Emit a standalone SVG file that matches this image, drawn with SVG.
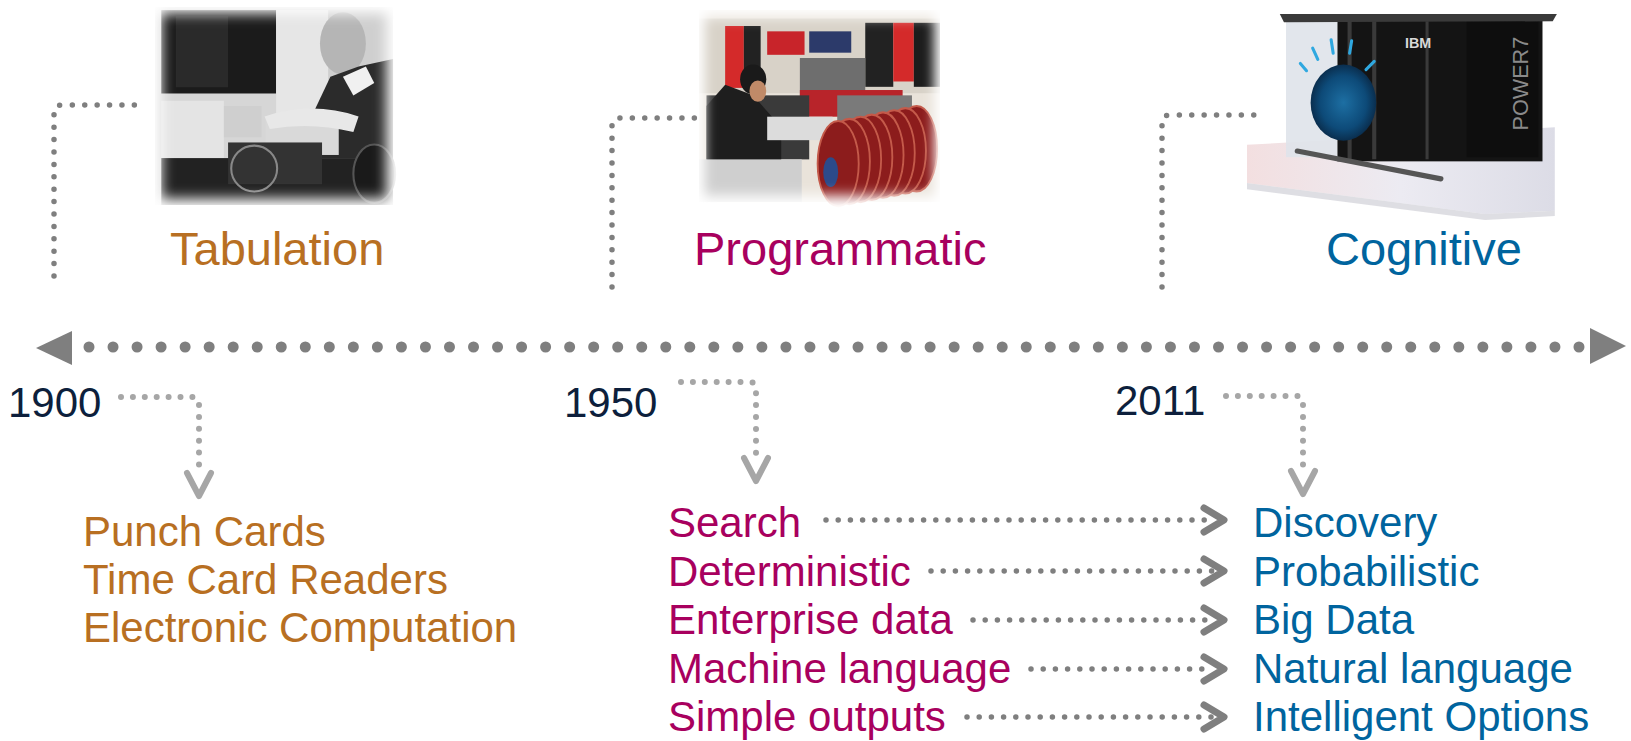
<svg xmlns="http://www.w3.org/2000/svg" width="1631" height="741" viewBox="0 0 1631 741">
<style>
.t{font-family:"Liberation Sans",Arial,sans-serif}
.title{font-size:47px}
.yr{font-size:42px;fill:#0D1F3C}
.it{font-size:42px}
.or{fill:#B86F22}
.mg{fill:#A8005E}
.bl{fill:#00649E}
.bigdot{fill:none;stroke:#7F7F7F;stroke-width:11;stroke-linecap:round;stroke-dasharray:0 24.032}
.brk{fill:none;stroke:#7F7F7F;stroke-width:5.5;stroke-linecap:round;stroke-dasharray:0 12.4}
.yc{fill:none;stroke:#A6A6A6;stroke-width:6;stroke-linecap:round;stroke-dasharray:0 11.9}
.ychev{fill:none;stroke:#A6A6A6;stroke-width:6;stroke-linecap:round;stroke-linejoin:round}
.ar{fill:none;stroke:#7F7F7F;stroke-width:5.5;stroke-linecap:round;stroke-dasharray:0 12.2}
.chev{fill:none;stroke:#7F7F7F;stroke-width:7;stroke-linecap:round;stroke-linejoin:round}
</style>
<defs>
<filter id="soft" x="-20%" y="-20%" width="140%" height="140%"><feGaussianBlur stdDeviation="6"/></filter>
<mask id="m1"><rect x="156" y="11" width="216" height="178" fill="#fff" filter="url(#soft)"/></mask>
<mask id="m2"><rect x="678" y="16" width="246" height="168" fill="#fff" filter="url(#soft)"/></mask>
<linearGradient id="plat" x1="0" y1="0" x2="1" y2="0"><stop offset="0" stop-color="#f3dfe0"/><stop offset="0.5" stop-color="#ecebf2"/><stop offset="1" stop-color="#dcdce6"/></linearGradient>
<radialGradient id="globe" cx="0.5" cy="0.5" r="0.5"><stop offset="0" stop-color="#1d6fa3"/><stop offset="0.7" stop-color="#0d4a78"/><stop offset="1" stop-color="#0a2e4e"/></radialGradient>
</defs>

<!-- Photo 1 -->
<g id="photo-tabulation" transform="translate(155,7) scale(1.044,1.042) translate(-150,-5)">
<g mask="url(#m1)">
<rect x="150" y="5" width="228" height="190" fill="#d6d6d6"/>
<rect x="156" y="8" width="110" height="80" fill="#1b1b1b"/>
<rect x="170" y="14" width="50" height="68" fill="#2a2a2a"/>
<rect x="266" y="8" width="50" height="110" fill="#e6e6e6"/>
<rect x="316" y="8" width="62" height="100" fill="#cfcfcf"/>
<ellipse cx="330" cy="40" rx="22" ry="30" fill="#b5b5b5"/>
<path d="M300,110 L318,72 L345,62 L378,55 L378,150 L300,150 Z" fill="#2b2b2b"/>
<path d="M330,72 L352,62 L360,78 L340,90 Z" fill="#f0f0f0"/>
<rect x="156" y="95" width="60" height="60" fill="#e4e4e4"/>
<rect x="216" y="100" width="36" height="30" fill="#cfcfcf"/>
<rect x="256" y="112" width="70" height="35" fill="#d9d9d9"/>
<path d="M255,110 Q300,95 345,110 L340,125 Q300,115 260,122 Z" fill="#e8e8e8"/>
<rect x="156" y="150" width="222" height="45" fill="#222"/>
<rect x="220" y="135" width="90" height="40" fill="#333"/>
<ellipse cx="245" cy="160" rx="22" ry="22" fill="none" stroke="#888" stroke-width="2"/>
<ellipse cx="360" cy="165" rx="20" ry="28" fill="#1a1a1a" stroke="#555" stroke-width="2"/>
</g>
</g>

<!-- Photo 2 -->
<g id="photo-programmatic" transform="translate(699,10) scale(0.934,1.067) translate(-672,-10)">
<g mask="url(#m2)">
<rect x="672" y="10" width="258" height="180" fill="#e9e3da"/>
<rect x="672" y="18" width="258" height="70" fill="#d8d2c8"/>
<rect x="700" y="25" width="20" height="58" fill="#d42a2a"/>
<rect x="720" y="25" width="18" height="58" fill="#222"/>
<rect x="745" y="30" width="40" height="22" fill="#c8242a"/>
<rect x="790" y="30" width="45" height="20" fill="#2c3a6a"/>
<rect x="850" y="22" width="30" height="60" fill="#222"/>
<rect x="880" y="22" width="22" height="55" fill="#d42a2a"/>
<rect x="902" y="22" width="28" height="60" fill="#1c1c1c"/>
<rect x="780" y="55" width="70" height="38" fill="#6e6e6e"/>
<rect x="780" y="85" width="110" height="25" fill="#b8242a"/>
<rect x="820" y="90" width="80" height="35" fill="#7a7a7a"/>
<rect x="680" y="90" width="110" height="60" fill="#3a3a3a"/>
<path d="M680,100 L700,80 L730,90 L760,120 L760,160 L680,160 Z" fill="#1e1e1e"/>
<circle cx="730" cy="75" r="14" fill="#1a1a1a"/>
<ellipse cx="735" cy="86" rx="9" ry="10" fill="#c08a68"/>
<rect x="745" y="110" width="70" height="22" fill="#dcdcdc"/>
<rect x="672" y="150" width="110" height="40" fill="#cfcfcf"/>
<g fill="#8c1c1c" stroke="#c45a4a" stroke-width="2">
<ellipse cx="905" cy="140" rx="22" ry="40"/>
<ellipse cx="893" cy="142" rx="22" ry="40"/>
<ellipse cx="881" cy="144" rx="22" ry="40"/>
<ellipse cx="869" cy="146" rx="22" ry="40"/>
<ellipse cx="857" cy="148" rx="22" ry="40"/>
<ellipse cx="845" cy="150" rx="22" ry="40"/>
<ellipse cx="833" cy="152" rx="22" ry="40"/>
<ellipse cx="821" cy="154" rx="22" ry="40"/>
</g>
<ellipse cx="813" cy="162" rx="8" ry="14" fill="#2c4a8a"/>
</g>
</g>

<!-- Photo 3 -->
<g id="photo-cognitive" transform="translate(1247,12) scale(1.026,1.03) translate(-1198,-10)">
<path d="M1198,139 L1498,122 L1498,203 L1430,206 L1198,176 Z" fill="url(#plat)"/>
<path d="M1198,176 L1430,206 L1498,203 L1498,208 L1430,212 L1198,182 Z" fill="#c8c8d0" opacity="0.6"/>
<rect x="1286" y="17" width="200" height="138" fill="#141414"/>
<rect x="1236" y="19" width="50" height="132" fill="#dfe3ea" opacity="0.9"/>
<rect x="1296" y="19" width="4" height="134" fill="#3a3a3a"/>
<rect x="1320" y="19" width="4" height="134" fill="#3a3a3a"/>
<rect x="1372" y="19" width="3" height="134" fill="#3a3a3a"/>
<rect x="1412" y="19" width="70" height="132" fill="#0e0e0e"/>
<path d="M1230,12 L1500,12 L1496,19 L1234,20 Z" fill="#3a3a3a"/>
<ellipse cx="1292" cy="98" rx="32" ry="37" fill="url(#globe)"/>
<g stroke="#2fa8e0" stroke-width="3" stroke-linecap="round">
<line x1="1250" y1="60" x2="1256" y2="67"/>
<line x1="1262" y1="45" x2="1267" y2="56"/>
<line x1="1280" y1="37" x2="1282" y2="50"/>
<line x1="1300" y1="38" x2="1298" y2="50"/>
<line x1="1322" y1="58" x2="1314" y2="66"/>
</g>
<text x="1352" y="45" class="t" font-size="14" font-weight="bold" fill="#d8d8d8">IBM</text>
<text transform="translate(1472,125) rotate(-90)" class="t" font-size="21" fill="#8a8a8a">POWER7</text>
<path d="M1247,145 L1387,172" stroke="#555" stroke-width="5" stroke-linecap="round"/>
</g>

<!-- Titles -->
<g id="node-tabulation"><text x="170" y="265" class="t title or">Tabulation</text></g>
<g id="node-programmatic"><text x="694" y="265" class="t title mg">Programmatic</text></g>
<g id="node-cognitive"><text x="1326" y="265" class="t title bl">Cognitive</text></g>

<!-- Years -->
<g id="year-1900"><text x="8" y="417" class="t yr">1900</text></g>
<g id="year-1950"><text x="564" y="417" class="t yr">1950</text></g>
<g id="year-2011"><text x="1115" y="415" class="t yr">2011</text></g>

<!-- Lists -->
<g id="list-tabulation" class="t it or">
<text x="83" y="546">Punch Cards</text>
<text x="83" y="594">Time Card Readers</text>
<text x="83" y="642">Electronic Computation</text>
</g>
<g id="list-programmatic" class="t it mg">
<text x="668" y="537">Search</text>
<text x="668" y="586">Deterministic</text>
<text x="668" y="634">Enterprise data</text>
<text x="668" y="683">Machine language</text>
<text x="668" y="731">Simple outputs</text>
</g>
<g id="list-cognitive" class="t it bl">
<text x="1253" y="537">Discovery</text>
<text x="1253" y="586">Probabilistic</text>
<text x="1253" y="634">Big Data</text>
<text x="1253" y="683">Natural language</text>
<text x="1253" y="731">Intelligent Options</text>
</g>

<!-- Connectors -->
<g id="connectors">
<line x1="89" y1="347" x2="1579" y2="347" class="bigdot"/>
<polygon points="36,348 72,331 72,365" fill="#7F7F7F"/>
<polygon points="1626,346 1590,328 1590,364" fill="#7F7F7F"/>

<path d="M54,276 V113 Q54,105 62,105 H146" class="brk"/>
<path d="M612,287 V126 Q612,118 620,118 H703" class="brk"/>
<path d="M1162,287 V123 Q1162,115 1170,115 H1254" class="brk"/>

<path d="M121,397 H193 Q199,397 199,404 V474" class="yc"/>
<polyline points="187,473 199,496 211,473" class="ychev"/>
<path d="M681,382 H750 Q756,382 756,390 V460" class="yc"/>
<polyline points="744,458 756,481 768,458" class="ychev"/>
<path d="M1226,396 H1297 Q1303,396 1303,403 V472" class="yc"/>
<polyline points="1291,471 1303,494 1315,471" class="ychev"/>

<line x1="826" y1="520" x2="1212" y2="520" class="ar"/>
<polyline points="1204,508 1224,520 1204,532" class="chev"/>
<line x1="931" y1="571" x2="1212" y2="571" class="ar"/>
<polyline points="1204,559 1224,571 1204,583" class="chev"/>
<line x1="973" y1="620" x2="1212" y2="620" class="ar"/>
<polyline points="1204,608 1224,620 1204,632" class="chev"/>
<line x1="1031" y1="669" x2="1212" y2="669" class="ar"/>
<polyline points="1204,657 1224,669 1204,681" class="chev"/>
<line x1="967" y1="717" x2="1212" y2="717" class="ar"/>
<polyline points="1204,705 1224,717 1204,729" class="chev"/>
</g>
</svg>
